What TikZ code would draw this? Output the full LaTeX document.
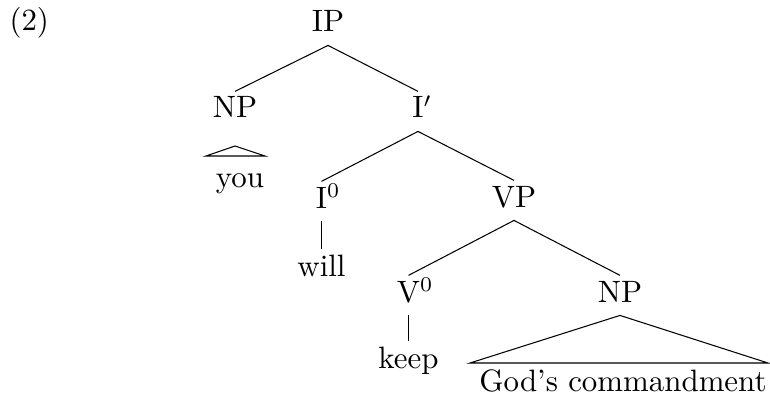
\documentclass[tikz,border=0pt]{standalone}
\begin{document}
\begin{tikzpicture}[x=0.3333pt,y=-0.3333pt,line width=0.35pt,
  every node/.style={font=\fontsize{10.3}{12}\selectfont},
  cat/.style={anchor=base,inner sep=1.7pt,text height=7pt,text depth=2.6pt}]
\useasboundingbox (0,0) rectangle (770,395);
% example number
\node[anchor=base west,inner sep=0pt] (num) at (9,31) {(2)};
% category labels
\node[cat] (IP)   at (328,32)  {IP};
\node[cat] (NPa)  at (235,118) {NP};
\node[cat] (Ibar) at (418,118) {I\rlap{$'$}};
\node[cat] (I0)   at (321.5,208) {I\rlap{$^0$}};
\node[cat] (VP)   at (514,207) {VP};
\node[cat] (V0)   at (408.5,302) {V\rlap{$^0$}};
\node[cat] (NPb)  at (620,302) {NP};
% words
\node[cat] (you)  at (240,187) {you};
\node[cat] (will) at (321.5,276) {will};
\node[cat] (keep) at (408.5,368) {keep};
\node[cat] (gc)   at (623,391) {God's commandment};
% branches
\draw (IP.south) -- (NPa.north);
\draw (IP.south) -- (Ibar.north);
\draw (Ibar.south) -- (I0.north);
\draw (Ibar.south) -- (VP.north);
\draw (VP.south) -- (V0.north);
\draw (VP.south) -- (NPb.north);
\draw (I0.south) -- (will.north);
\draw (V0.south) -- (keep.north);
% roofs
\coordinate (ya) at (235,146);
\coordinate (yl) at (206,156);
\coordinate (yr) at (265,156);
\draw (ya) -- (yl) -- (yr) -- cycle;
\coordinate (gl) at (470,363);
\coordinate (gr) at (768,363);
\draw (NPb.south) -- (gl) -- (gr) -- cycle;
\end{tikzpicture}
\end{document}
